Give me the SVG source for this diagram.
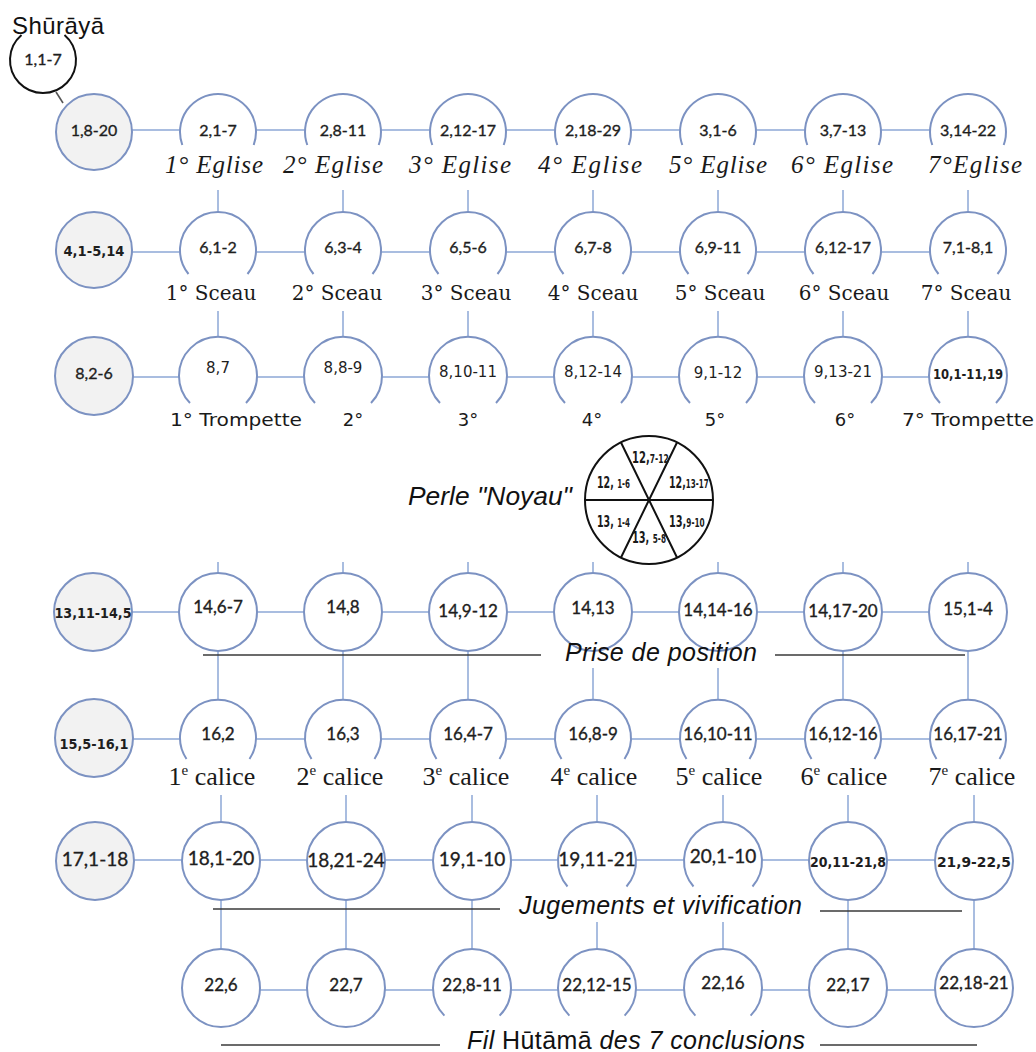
<svg xmlns="http://www.w3.org/2000/svg" width="1036" height="1052" viewBox="0 0 1036 1052">
<style>
.nd{fill:#fff;stroke:#7c92c2;stroke-width:2}
.gr{fill:#f2f2f2;stroke:#7c92c2;stroke-width:2}
.cn{stroke:#a9bde0;stroke-width:2;fill:none}
.ul{stroke:#3a3a3a;stroke-width:1.6}
.lb{font-family:Lato,"Open Sans",sans-serif;font-size:16px;fill:#1e1e1e;stroke:#1e1e1e;stroke-width:0.35;text-anchor:middle}
.l17{font-size:17px}
.l19{font-size:19px}
.tb{font-family:"DejaVu Sans",sans-serif;font-size:15px;fill:#1e1e1e;text-anchor:middle}
.cd{font-family:"DejaVu Sans Condensed","DejaVu Sans",sans-serif;font-weight:bold;font-size:14px;fill:#1e1e1e;text-anchor:middle}
.eg{font-family:"Liberation Serif",serif;font-style:italic;font-size:25px;fill:#1a1a1a;text-anchor:middle}
.sc{font-family:"DejaVu Serif",serif;font-size:20px;fill:#1a1a1a;text-anchor:middle}
.tr{font-family:"DejaVu Sans",sans-serif;font-size:18px;fill:#1a1a1a}
.ca{font-family:"Liberation Serif",serif;font-size:26px;fill:#1a1a1a;text-anchor:middle}
.it{font-family:"Liberation Sans",Arial,sans-serif;font-style:italic;font-size:25px;fill:#111}
.pl{font-family:"DejaVu Sans Condensed","DejaVu Sans",sans-serif;font-weight:bold;font-size:16px;fill:#1a1a1a}
.ps{font-size:12px}
</style>

<g id="connectors">
  <line class="cn" x1="94" y1="130" x2="968" y2="130"/>
  <line class="cn" x1="94" y1="252" x2="968" y2="252"/>
  <line class="cn" x1="94" y1="377" x2="968" y2="377"/>
  <line class="cn" x1="93" y1="612" x2="968" y2="612"/>
  <line class="cn" x1="94" y1="739" x2="968" y2="739"/>
  <line class="cn" x1="95" y1="860" x2="974" y2="860"/>
  <line class="cn" x1="221" y1="990" x2="974" y2="990"/>
  <path class="cn" d="M218,190V212M343,190V212M468,190V212M593,190V212M718,190V212M843,190V212M968,190V212"/>
  <path class="cn" d="M218,311V337M343,311V337M468,311V337M593,311V337M718,311V337M843,311V337M968,311V337"/>
  <path class="cn" d="M218,562V573M343,562V573M468,562V573M593,562V573M718,562V573M843,562V573M968,562V573"/>
  <path class="cn" d="M218,651V700M343,651V700M468,651V700M593,668V700M718,668V700M843,651V700M968,651V700"/>
  <path class="cn" d="M221,795V822M346,795V822M472,795V822M597,795V822M723,795V822M848,795V822M974,795V822"/>
  <path class="cn" d="M221,900V949M346,900V949M472,900V949M597,922V949M723,922V949M848,900V949M974,900V949"/>
  <line x1="56" y1="92" x2="63" y2="103" stroke="#555" stroke-width="1.6"/>
</g>

<g id="rules">
  <line class="ul" x1="203" y1="655" x2="541" y2="655"/>
  <line class="ul" x1="775" y1="655" x2="965" y2="655"/>
  <line class="ul" x1="213" y1="909" x2="500" y2="909"/>
  <line class="ul" x1="820" y1="911" x2="962" y2="911"/>
  <line class="ul" x1="221" y1="1045" x2="440" y2="1045"/>
  <line class="ul" x1="820" y1="1045" x2="977" y2="1045"/>
</g>

<g id="shuraya">
  <text x="12" y="34" font-family="Liberation Sans, Arial, sans-serif" font-size="24" fill="#111" textLength="92">Shūrāyā</text>
  <path d="M21.5,35 A33,33 0 1 0 64.5,35" fill="none" stroke="#111" stroke-width="2"/>
  <text class="lb" x="43" y="65">1,1-7</text>
</g>

<!-- Row 1 -->
<g id="n-1-8-20" transform="translate(94,132)"><circle class="gr" r="38"/><text class="lb" y="4">1,8-20</text></g>
<g id="n-2-1-7" transform="translate(218,132)"><path class="nd" d="M-35.7,13 A38,38 0 1 1 35.7,13"/><text class="lb" y="4">2,1-7</text></g>
<g id="n-2-8-11" transform="translate(343,132)"><path class="nd" d="M-35.7,13 A38,38 0 1 1 35.7,13"/><text class="lb" y="4">2,8-11</text></g>
<g id="n-2-12-17" transform="translate(468,132)"><path class="nd" d="M-35.7,13 A38,38 0 1 1 35.7,13"/><text class="lb" y="4">2,12-17</text></g>
<g id="n-2-18-29" transform="translate(593,132)"><path class="nd" d="M-35.7,13 A38,38 0 1 1 35.7,13"/><text class="lb" y="4">2,18-29</text></g>
<g id="n-3-1-6" transform="translate(718,132)"><path class="nd" d="M-35.7,13 A38,38 0 1 1 35.7,13"/><text class="lb" y="4">3,1-6</text></g>
<g id="n-3-7-13" transform="translate(843,132)"><path class="nd" d="M-35.7,13 A38,38 0 1 1 35.7,13"/><text class="lb" y="4">3,7-13</text></g>
<g id="n-3-14-22" transform="translate(968,132)"><path class="nd" d="M-35.7,13 A38,38 0 1 1 35.7,13"/><text class="lb" y="4">3,14-22</text></g>
<g id="eglise-labels">
  <text class="eg" x="214" y="173" textLength="98">1° Eglise</text>
  <text class="eg" x="333" y="173" textLength="100">2° Eglise</text>
  <text class="eg" x="460" y="173" textLength="102">3° Eglise</text>
  <text class="eg" x="590" y="173" textLength="104">4° Eglise</text>
  <text class="eg" x="718" y="173" textLength="98">5° Eglise</text>
  <text class="eg" x="842" y="173" textLength="102">6° Eglise</text>
  <text class="eg" x="975" y="173" textLength="94">7°Eglise</text>
</g>

<!-- Row 2 -->
<g id="n-4-1-5-14" transform="translate(94,250)"><circle class="gr" r="38"/><text class="cd" y="6" textLength="61" lengthAdjust="spacingAndGlyphs">4,1-5,14</text></g>
<g id="n-6-1-2" transform="translate(218,250)"><path class="nd" d="M-29.5,24 A38,38 0 1 1 29.5,24"/><text class="lb" y="3">6,1-2</text></g>
<g id="n-6-3-4" transform="translate(343,250)"><path class="nd" d="M-29.5,24 A38,38 0 1 1 29.5,24"/><text class="lb" y="3">6,3-4</text></g>
<g id="n-6-5-6" transform="translate(468,250)"><path class="nd" d="M-29.5,24 A38,38 0 1 1 29.5,24"/><text class="lb" y="3">6,5-6</text></g>
<g id="n-6-7-8" transform="translate(593,250)"><path class="nd" d="M-29.5,24 A38,38 0 1 1 29.5,24"/><text class="lb" y="3">6,7-8</text></g>
<g id="n-6-9-11" transform="translate(718,250)"><path class="nd" d="M-29.5,24 A38,38 0 1 1 29.5,24"/><text class="lb" y="3">6,9-11</text></g>
<g id="n-6-12-17" transform="translate(843,250)"><path class="nd" d="M-29.5,24 A38,38 0 1 1 29.5,24"/><text class="lb" y="3">6,12-17</text></g>
<g id="n-7-1-8-1" transform="translate(968,250)"><path class="nd" d="M-29.5,24 A38,38 0 1 1 29.5,24"/><text class="lb" y="3">7,1-8,1</text></g>
<g id="sceau-labels">
  <text class="sc" x="211" y="300">1° Sceau</text>
  <text class="sc" x="337" y="300">2° Sceau</text>
  <text class="sc" x="466" y="300">3° Sceau</text>
  <text class="sc" x="593" y="300">4° Sceau</text>
  <text class="sc" x="720" y="300">5° Sceau</text>
  <text class="sc" x="844" y="300">6° Sceau</text>
  <text class="sc" x="966" y="300">7° Sceau</text>
</g>

<!-- Row 3 -->
<g id="n-8-2-6" transform="translate(94,376)"><circle class="gr" r="39"/><text class="lb" y="3">8,2-6</text></g>
<g id="n-8-7" transform="translate(218,376)"><path class="nd" d="M-28,27 A39,39 0 1 1 28,27"/><text class="tb" y="-3">8,7</text></g>
<g id="n-8-8-9" transform="translate(343,376)"><path class="nd" d="M-28,27 A39,39 0 1 1 28,27"/><text class="tb" y="-3">8,8-9</text></g>
<g id="n-8-10-11" transform="translate(468,376)"><path class="nd" d="M-28,27 A39,39 0 1 1 28,27"/><text class="tb" y="1">8,10-11</text></g>
<g id="n-8-12-14" transform="translate(593,376)"><path class="nd" d="M-28,27 A39,39 0 1 1 28,27"/><text class="tb" y="1">8,12-14</text></g>
<g id="n-9-1-12" transform="translate(718,376)"><path class="nd" d="M-28,27 A39,39 0 1 1 28,27"/><text class="tb" y="2">9,1-12</text></g>
<g id="n-9-13-21" transform="translate(843,376)"><path class="nd" d="M-28,27 A39,39 0 1 1 28,27"/><text class="tb" y="1">9,13-21</text></g>
<g id="n-10-1-11-19" transform="translate(968,376)"><path class="nd" d="M-28,27 A39,39 0 1 1 28,27"/><text class="cd" y="3" textLength="70" lengthAdjust="spacingAndGlyphs">10,1-11,19</text></g>
<g id="trompette-labels">
  <text class="tr" x="170" y="426" textLength="132" lengthAdjust="spacingAndGlyphs">1° Trompette</text>
  <text class="tr" x="353" y="426" text-anchor="middle">2°</text>
  <text class="tr" x="468" y="426" text-anchor="middle">3°</text>
  <text class="tr" x="592" y="426" text-anchor="middle">4°</text>
  <text class="tr" x="715" y="426" text-anchor="middle">5°</text>
  <text class="tr" x="845" y="426" text-anchor="middle">6°</text>
  <text class="tr" x="902" y="426" textLength="132" lengthAdjust="spacingAndGlyphs">7° Trompette</text>
</g>

<!-- Pearl -->
<text class="it" x="408" y="505" textLength="164" lengthAdjust="spacingAndGlyphs">Perle "Noyau"</text>
<g id="perle-noyau" transform="translate(649,500)">
  <circle r="64" fill="#fff" stroke="#111" stroke-width="2"/>
  <path d="M-64,0H64M-28,-57.5L28,57.5M28,-57.5L-28,57.5" stroke="#111" stroke-width="2" fill="none"/>
  <text class="pl" transform="translate(-17,-37) scale(0.7,1)">12,<tspan class="ps">7-12</tspan></text>
  <text class="pl" transform="translate(-52,-12) scale(0.66,1)">12, <tspan class="ps">1-6</tspan></text>
  <text class="pl" transform="translate(20,-12) scale(0.66,1)">12,<tspan class="ps">13-17</tspan></text>
  <text class="pl" transform="translate(-52,27) scale(0.66,1)">13, <tspan class="ps">1-4</tspan></text>
  <text class="pl" transform="translate(-17,43) scale(0.68,1)">13, <tspan class="ps">5-8</tspan></text>
  <text class="pl" transform="translate(20,27) scale(0.68,1)">13,<tspan class="ps">9-10</tspan></text>
</g>

<!-- Row 4 -->
<g id="n-13-11-14-5" transform="translate(93,612)"><circle class="gr" r="39"/><text class="cd" y="6" textLength="77" lengthAdjust="spacingAndGlyphs">13,11-14,5</text></g>
<g id="n-14-6-7" transform="translate(218,612)"><circle class="nd" r="39"/><text class="lb l17" y="1">14,6-7</text></g>
<g id="n-14-8" transform="translate(343,612)"><circle class="nd" r="39"/><text class="lb l17" y="1">14,8</text></g>
<g id="n-14-9-12" transform="translate(468,612)"><circle class="nd" r="39"/><text class="lb l17" y="5">14,9-12</text></g>
<g id="n-14-13" transform="translate(593,612)"><circle class="nd" r="39"/><text class="lb l17" y="2">14,13</text></g>
<g id="n-14-14-16" transform="translate(718,612)"><circle class="nd" r="39"/><text class="lb l17" y="4">14,14-16</text></g>
<g id="n-14-17-20" transform="translate(843,612)"><circle class="nd" r="39"/><text class="lb l17" y="5">14,17-20</text></g>
<g id="n-15-1-4" transform="translate(968,612)"><circle class="nd" r="39"/><text class="lb l17" y="3">15,1-4</text></g>
<text class="it" x="565" y="661" textLength="192">Prise de position</text>

<!-- Row 5 -->
<g id="n-15-5-16-1" transform="translate(94,738)"><circle class="gr" r="39"/><text class="cd" y="11" textLength="69" lengthAdjust="spacingAndGlyphs">15,5-16,1</text></g>
<g id="n-16-2" transform="translate(218,738)"><path class="nd" d="M-31.5,21 A38,38 0 1 1 31.5,21"/><text class="lb l17" y="2">16,2</text></g>
<g id="n-16-3" transform="translate(343,738)"><path class="nd" d="M-31.5,21 A38,38 0 1 1 31.5,21"/><text class="lb l17" y="2">16,3</text></g>
<g id="n-16-4-7" transform="translate(468,738)"><path class="nd" d="M-31.5,21 A38,38 0 1 1 31.5,21"/><text class="lb l17" y="2">16,4-7</text></g>
<g id="n-16-8-9" transform="translate(593,738)"><path class="nd" d="M-31.5,21 A38,38 0 1 1 31.5,21"/><text class="lb l17" y="2">16,8-9</text></g>
<g id="n-16-10-11" transform="translate(718,738)"><path class="nd" d="M-31.5,21 A38,38 0 1 1 31.5,21"/><text class="lb l17" y="2">16,10-11</text></g>
<g id="n-16-12-16" transform="translate(843,738)"><path class="nd" d="M-31.5,21 A38,38 0 1 1 31.5,21"/><text class="lb l17" y="2">16,12-16</text></g>
<g id="n-16-17-21" transform="translate(968,738)"><path class="nd" d="M-31.5,21 A38,38 0 1 1 31.5,21"/><text class="lb l17" y="2">16,17-21</text></g>
<g id="calice-labels">
  <text class="ca" x="212" y="785">1<tspan font-size="15" dy="-10">e</tspan><tspan dy="10"> calice</tspan></text>
  <text class="ca" x="340" y="785">2<tspan font-size="15" dy="-10">e</tspan><tspan dy="10"> calice</tspan></text>
  <text class="ca" x="466" y="785">3<tspan font-size="15" dy="-10">e</tspan><tspan dy="10"> calice</tspan></text>
  <text class="ca" x="594" y="785">4<tspan font-size="15" dy="-10">e</tspan><tspan dy="10"> calice</tspan></text>
  <text class="ca" x="719" y="785">5<tspan font-size="15" dy="-10">e</tspan><tspan dy="10"> calice</tspan></text>
  <text class="ca" x="844" y="785">6<tspan font-size="15" dy="-10">e</tspan><tspan dy="10"> calice</tspan></text>
  <text class="ca" x="972" y="785">7<tspan font-size="15" dy="-10">e</tspan><tspan dy="10"> calice</tspan></text>
</g>

<!-- Row 6 -->
<g id="n-17-1-18" transform="translate(95,861)"><circle class="gr" r="39"/><text class="lb l19" y="5">17,1-18</text></g>
<g id="n-18-1-20" transform="translate(221,861)"><circle class="nd" r="39"/><text class="lb l19" y="4">18,1-20</text></g>
<g id="n-18-21-24" transform="translate(346,861)"><circle class="nd" r="39"/><text class="lb l19" y="6">18,21-24</text></g>
<g id="n-19-1-10" transform="translate(472,861)"><circle class="nd" r="39"/><text class="lb l19" y="5">19,1-10</text></g>
<g id="n-19-11-21" transform="translate(597,861)"><path class="nd" d="M-29.5,25.5 A39,39 0 1 1 29.5,25.5"/><text class="lb l19" y="5">19,11-21</text></g>
<g id="n-20-1-10" transform="translate(723,861)"><path class="nd" d="M-29.5,25.5 A39,39 0 1 1 29.5,25.5"/><text class="lb l19" y="2">20,1-10</text></g>
<g id="n-20-11-21-8" transform="translate(848,861)"><circle class="nd" r="39"/><text class="cd l17" y="6" textLength="76" lengthAdjust="spacingAndGlyphs">20,11-21,8</text></g>
<g id="n-21-9-22-5" transform="translate(974,861)"><circle class="nd" r="39"/><text class="cd l17" y="6" textLength="74" lengthAdjust="spacingAndGlyphs">21,9-22,5</text></g>
<text class="it" x="519" y="914" textLength="283">Jugements et vivification</text>

<!-- Row 7 -->
<g id="n-22-6" transform="translate(221,988)"><circle class="nd" r="39"/><text class="lb l17" y="3">22,6</text></g>
<g id="n-22-7" transform="translate(346,988)"><circle class="nd" r="39"/><text class="lb l17" y="3">22,7</text></g>
<g id="n-22-8-11" transform="translate(472,988)"><path class="nd" d="M-27.6,27.6 A39,39 0 1 1 27.6,27.6"/><text class="lb l17" y="3">22,8-11</text></g>
<g id="n-22-12-15" transform="translate(597,988)"><path class="nd" d="M-27.6,27.6 A39,39 0 1 1 27.6,27.6"/><text class="lb l17" y="3">22,12-15</text></g>
<g id="n-22-16" transform="translate(723,988)"><path class="nd" d="M-27.6,27.6 A39,39 0 1 1 27.6,27.6"/><text class="lb l17" y="1">22,16</text></g>
<g id="n-22-17" transform="translate(848,988)"><circle class="nd" r="39"/><text class="lb l17" y="3">22,17</text></g>
<g id="n-22-18-21" transform="translate(974,988)"><circle class="nd" r="39"/><text class="lb l17" y="1">22,18-21</text></g>
<text class="it" x="467" y="1049" textLength="338">Fil <tspan font-style="normal">Hūtāmā</tspan> des 7 conclusions</text>
</svg>
